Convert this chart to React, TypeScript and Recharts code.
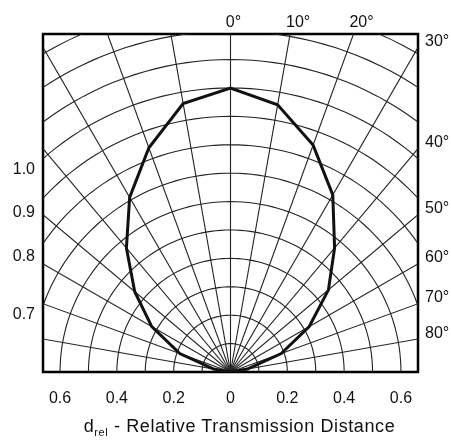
import { ScatterChart, Scatter, XAxis, YAxis, ReferenceLine, ReferenceArea, ReferenceDot, Label } from "recharts";

// relative transmission distance vs angular displacement (deg from axis)
const ANGLE_DEG = [-90, -80, -70, -60, -50, -40, -30, -20, -10, 0, 10, 20, 30, 40, 50, 60, 70, 80, 90];
const D_REL = [0, 0.06, 0.19, 0.32, 0.44, 0.57, 0.71, 0.84, 0.96, 1.0, 0.955, 0.85, 0.72, 0.57, 0.45, 0.32, 0.19, 0.06, 0];

const GRID_RADII = [0.1, 0.2, 0.3, 0.4, 0.5, 0.6, 0.7, 0.8, 0.9, 1.0, 1.1, 1.2, 1.3];
const SPOKE_DEG = [-80, -70, -60, -50, -40, -30, -20, -10, 0, 10, 20, 30, 40, 50, 60, 70, 80];
const X_TICKS = [-0.6, -0.4, -0.2, 0, 0.2, 0.4, 0.6];
const TOP_DEG = [0, 10, 20];
const RIGHT_DEG = [30, 40, 50, 60, 70, 80];
const LEFT_LABELS = ["1.0", "0.9", "0.8", "0.7"];
const LEFT_LABEL_POS = [0.718, 0.567, 0.412, 0.208];

const XMIN = -0.66;
const XMAX = 0.66;
const YMAX = 1.19;

const INK = "#111";
const GRID = "#222";
const FONT = "'Liberation Sans', Arial, sans-serif";
const DEG = "\u00b0";
const rad = Math.PI / 180;

const curve = ANGLE_DEG.map((a, i) => ({ x: D_REL[i] * Math.sin(a * rad), y: D_REL[i] * Math.cos(a * rad) }));

const arc = (r: number) => {
  const pts = [];
  for (let a = -90; a <= 90; a += 2) pts.push({ x: r * Math.sin(a * rad), y: r * Math.cos(a * rad) });
  return pts;
};

// where the spokes leave the frame
const TOP_POS = TOP_DEG.map(a => YMAX * Math.tan(a * rad));
const RIGHT_POS = RIGHT_DEG.map(a => XMAX / Math.tan(a * rad));

const noDot = () => <g />;

const RightTick = ({ x, y, payload }: any) => {
  const i = RIGHT_POS.findIndex(v => Math.abs(v - payload.value) < 1e-6);
  return (
    <text x={x} y={y - 7} dy="0.35em" textAnchor="start" fontSize={16} fontFamily={FONT} fill={INK}>
      {`${RIGHT_DEG[i]}${DEG}`}
    </text>
  );
};

const topLabel = (deg: number) => ({ viewBox }: any) => (
  <text x={viewBox.x + (deg === 0 ? 3 : 8)} y={viewBox.y - 7} textAnchor="middle" fontSize={16} fontFamily={FONT} fill={INK}>
    {`${deg}${DEG}`}
  </text>
);

const Title = ({ viewBox }: any) => (
  <text x={viewBox.x + viewBox.width / 2 + 9} y={viewBox.y + 60} textAnchor="middle" fontSize={18} letterSpacing={0.6} fontFamily={FONT} fill={INK}>
    d
    <tspan fontSize={11} dy={4}>rel</tspan>
    <tspan dy={-4}> - Relative Transmission Distance</tspan>
  </text>
);

export default function App() {
  return (
    <div style={{ position: "fixed", left: 8, top: 8, width: 443, height: 433 }}>
      <ScatterChart width={443} height={433} margin={{ top: 26, right: 0, bottom: 0, left: 0 }} style={{ fontFamily: FONT }}>
        <XAxis xAxisId="x" dataKey="x" type="number" domain={[XMIN, XMAX]} allowDataOverflow ticks={X_TICKS} interval={0}
          tickFormatter={(v: number) => (v === 0 ? "0" : Math.abs(v).toFixed(1))} axisLine={false} tickLine={false}
          tickSize={6} tickMargin={14} height={69} tick={{ fontSize: 16, fill: INK }}>
          <Label content={Title} />
        </XAxis>
        <YAxis yAxisId="y" dataKey="y" type="number" domain={[0, YMAX]} allowDataOverflow ticks={LEFT_LABEL_POS} interval={0}
          tickFormatter={(_v: number, i: number) => LEFT_LABELS[i]} axisLine={false} tickLine={false} width={35}
          tick={{ fontSize: 16, fill: INK }} />
        <YAxis yAxisId="right" orientation="right" type="number" domain={[0, YMAX]} allowDataOverflow ticks={RIGHT_POS} interval={0}
          axisLine={false} tickLine={false} tickMargin={1} width={33} tick={<RightTick />} />

        {SPOKE_DEG.map(a => (
          <ReferenceLine key={`s${a}`} xAxisId="x" yAxisId="y" ifOverflow="hidden"
            segment={[{ x: 0, y: 0 }, { x: 2 * Math.sin(a * rad), y: 2 * Math.cos(a * rad) }]}
            stroke={GRID} strokeWidth={1.1} />
        ))}
        {GRID_RADII.map(r => (
          <Scatter key={`r${r}`} xAxisId="x" yAxisId="y" data={arc(r)} shape={noDot}
            line={{ stroke: GRID, strokeWidth: 1.1 }} isAnimationActive={false} />
        ))}
        <Scatter xAxisId="x" yAxisId="y" data={curve} shape={noDot}
          line={{ stroke: INK, strokeWidth: 3, strokeLinejoin: "miter" }} isAnimationActive={false} />
        <ReferenceArea xAxisId="x" yAxisId="y" x1={XMIN} x2={XMAX} y1={0} y2={YMAX} fill="none" fillOpacity={0}
          stroke="#000" strokeWidth={2.5} ifOverflow="visible" />
        {TOP_DEG.map((d, i) => (
          <ReferenceDot key={`t${d}`} xAxisId="x" yAxisId="y" x={TOP_POS[i]} y={YMAX} r={0} fill="none" stroke="none"
            ifOverflow="visible" label={{ content: topLabel(d) }} />
        ))}
      </ScatterChart>
    </div>
  );
}
